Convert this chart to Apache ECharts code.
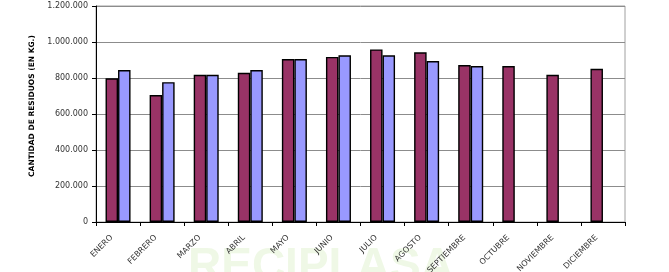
<!DOCTYPE html>
<html><head><meta charset="utf-8">
<script src="https://cdn.jsdelivr.net/npm/echarts@6/dist/echarts.min.js"></script>
<style>html,body{margin:0;padding:0;background:#fff}#c{width:669px;height:272px}</style>
</head><body><div id="c"></div>
<script>
const categories = ['ENERO','FEBRERO','MARZO','ABRIL','MAYO','JUNIO','JULIO','AGOSTO','SEPTIEMBRE','OCTUBRE','NOVIEMBRE','DICIEMBRE'];
const series1 = [798000, 705000, 818000, 829000, 905000, 917000, 959000, 943000, 872000, 866000, 818000, 851000];
const series2 = [844000, 777000, 818000, 844000, 905000, 926000, 926000, 894000, 866000, null, null, null];
const yTicks = [0, 200000, 400000, 600000, 800000, 1000000, 1200000];
const yAxisTitle = 'CANTIDAD DE RESIDUOS (EN KG.)';
const watermark = 'RECIPLASA';

function fmt(v){ return String(v).replace(/\B(?=(\d{3})+(?!\d))/g, '.'); }

const chart = echarts.init(document.getElementById('c'), null, {renderer:'canvas'});
chart.setOption({
  animation:false,
  backgroundColor:'#fff',
  graphic:[{
    type:'text', left:188, top:244, z:-10, silent:true,
    style:{text:watermark, font:'bold 46px "Liberation Sans", Arial, sans-serif', fill:'#eff8e6'}
  }],
  grid:{left:96, right:44, top:6, bottom:50, containLabel:false, outerBoundsMode:'none', show:true, borderColor:'#a0a0a0', borderWidth:1, backgroundColor:'transparent'},
  xAxis:{
    type:'category', data:categories,
    axisLine:{lineStyle:{color:'#000', width:1}},
    axisTick:{show:true, alignWithLabel:false, length:4, lineStyle:{color:'#000'}},
    axisLabel:{rotate:45, fontSize:8, color:'#333', fontFamily:'"DejaVu Sans", sans-serif', margin:8, interval:0, padding:[0,9,0,0]}
  },
  yAxis:{
    type:'value', min:yTicks[0], max:yTicks[yTicks.length-1], interval:yTicks[1]-yTicks[0],
    name:yAxisTitle, nameLocation:'middle', nameGap:58, nameRotate:90,
    nameTextStyle:{fontSize:7.5, fontWeight:'bold', color:'#000', fontFamily:'"DejaVu Sans", sans-serif', padding:[0,0,0,16]},
    axisLine:{show:true, lineStyle:{color:'#000', width:1}},
    axisTick:{show:true, length:4, lineStyle:{color:'#000'}},
    axisLabel:{formatter:fmt, fontSize:8, color:'#333', fontFamily:'"DejaVu Sans", sans-serif', margin:8},
    splitLine:{lineStyle:{color:'#8c8c8c', width:1}}
  },
  series:[
    {type:'bar', data:series1, barWidth:12.5, barGap:'0%',
     itemStyle:{color:'#993366', borderColor:'#000', borderWidth:1.4}},
    {type:'bar', data:series2, barWidth:12.5, barGap:'0%',
     itemStyle:{color:'#9999ff', borderColor:'#000', borderWidth:1.4}}
  ]
});
</script></body></html>
